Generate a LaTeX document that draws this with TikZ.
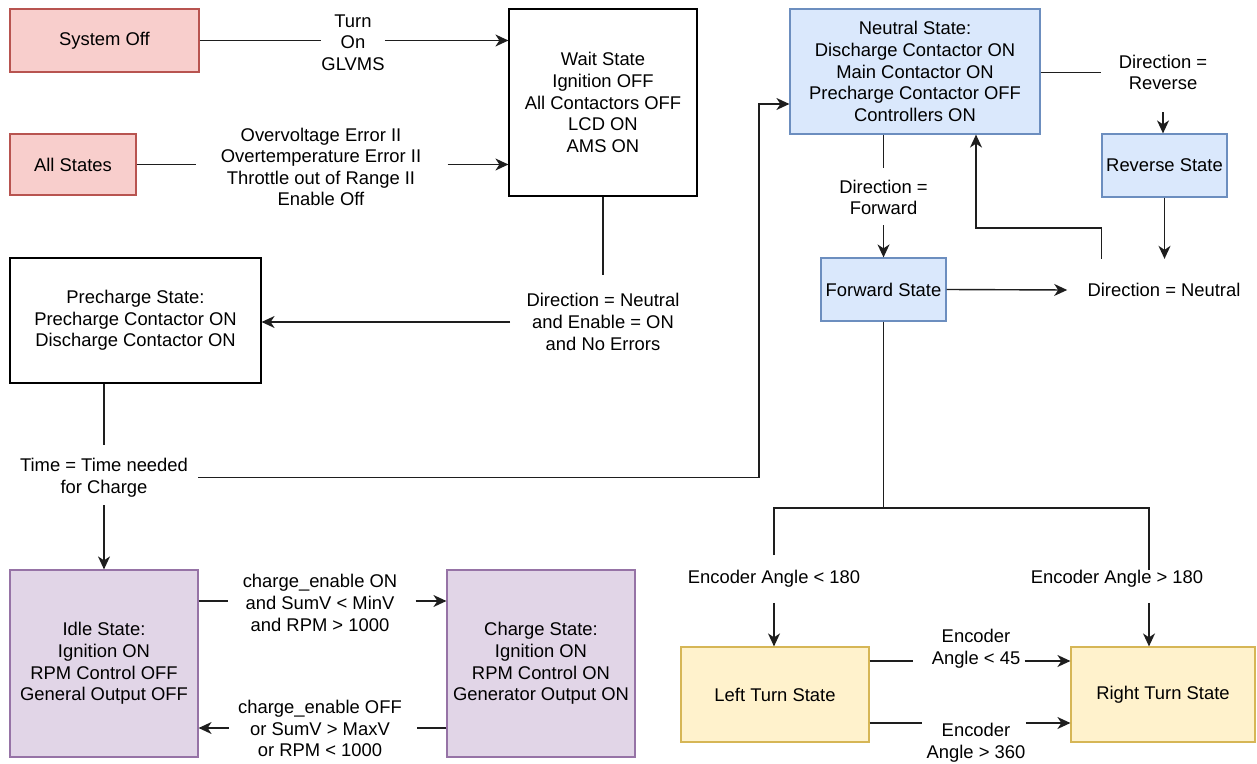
\documentclass[tikz,border=0pt]{standalone}
\usepackage{fontspec}
\setmainfont{Liberation Sans}
\usetikzlibrary{arrows.meta}

\definecolor{redfill}{HTML}{F8CECC}
\definecolor{redline}{HTML}{B85450}
\definecolor{bluefill}{HTML}{DAE8FC}
\definecolor{blueline}{HTML}{6C8EBF}
\definecolor{purpfill}{HTML}{E1D5E7}
\definecolor{purpline}{HTML}{9673A6}
\definecolor{yelfill}{HTML}{FFF2CC}
\definecolor{yelline}{HTML}{D6B656}
\definecolor{wire}{HTML}{1E1E1E}

\begin{document}
\begin{tikzpicture}[x=0.5pt, y=-0.5pt,
        every node/.style={font=\fontsize{9.2}{10.8}\selectfont, align=center, inner sep=0pt},
        state/.style={draw, line width=0.6pt},
        redst/.style={state, fill=redfill, draw=redline},
        bluest/.style={state, fill=bluefill, draw=blueline},
        purpst/.style={state, fill=purpfill, draw=purpline},
        yelst/.style={state, fill=yelfill, draw=yelline},
        plainst/.style={state, fill=white, draw=black},
        link/.style={draw=wire, line width=0.7pt},
        arr/.style={link, -{Stealth[length=6.5pt, width=6pt, inset=2pt]}}]
    \fill[white] (0,0) rectangle (1257,764);
    \useasboundingbox (0,0) rectangle (1257,764);

    \node[redst, minimum width=94.5pt, minimum height=31.5pt] (sysoff) at (104.5,40.5) {System Off};
    \node[redst, minimum width=63pt, minimum height=30.5pt] (allst) at (73,164.5) {All States};
    \node[plainst, minimum width=94pt, minimum height=93.5pt] (wait) at (603,102.5)
        {Wait State\\Ignition OFF\\All Contactors OFF\\LCD ON\\AMS ON};
    \node[plainst, minimum width=125.5pt, minimum height=62.5pt] (pre) at (135.5,320.5)
        {Precharge State:\\Precharge Contactor ON\\Discharge Contactor ON};
    \node[bluest, minimum width=125pt, minimum height=62.5pt] (neutral) at (915,71.5)
        {Neutral State:\\Discharge Contactor ON\\Main Contactor ON\\Precharge Contactor OFF\\Controllers ON};
    \node[bluest, minimum width=62.5pt, minimum height=31.5pt] (reverse) at (1164.5,165.5) {Reverse State};
    \node[bluest, minimum width=62.5pt, minimum height=31.5pt] (forward) at (883.5,289.5) {Forward State};
    \node[purpst, minimum width=94pt, minimum height=93.5pt] (idle) at (104,663.5)
        {Idle State:\\Ignition ON\\RPM Control OFF\\General Output OFF};
    \node[purpst, minimum width=94pt, minimum height=93.5pt] (charge) at (541,663.5)
        {Charge State:\\Ignition ON\\RPM Control ON\\Generator Output ON};
    \node[yelst, minimum width=94pt, minimum height=47.5pt] (lturn) at (775,694.5) {Left Turn State};
    \node[yelst, minimum width=92pt, minimum height=47.5pt] (rturn) at (1163,694.5) {Right Turn State};

    \node (turnlbl) at (353,42.5) {Turn\\On\\GLVMS};
    \node (errlbl) at (321,167) {Overvoltage Error II\\Overtemperature Error II\\Throttle out of Range II\\Enable Off};
    \node (neulbl) at (603,322) {Direction = Neutral\\and Enable = ON\\and No Errors};
    \node (timelbl) at (104,477.5) {Time = Time needed\\for Charge};
    \node (fwdlbl) at (883.5,197.5) {Direction =\\Forward};
    \node (revlbl) at (1163,72.5) {Direction =\\Reverse};
    \node (dirneu) at (1164,290) {Direction = Neutral};
    \node (chon) at (320,603) {charge\_enable ON\\and SumV < MinV\\and RPM > 1000};
    \node (choff) at (320,728.5) {charge\_enable OFF\\or SumV > MaxV\\or RPM < 1000};
    \node (encl) at (774,579) {Encoder Angle < 180};
    \node (encr) at (1117,579) {Encoder Angle > 180};
    \node (enct) at (976,648.5) {Encoder\\Angle < 45};
    \node (encb) at (976,742.5) {Encoder\\Angle > 360};

    \coordinate (tcorner) at (759,104);
    \coordinate (dntop) at ([yshift=12pt]dirneu.north);
    \coordinate (fbturn) at (976,228);
    \coordinate (rdrop) at (1149,508);
    \coordinate (ea) at ([yshift=16.75pt]lturn.east);
    \coordinate (eb) at ([yshift=-14.25pt]lturn.east);
    \coordinate (ia) at ([yshift=31.25pt]idle.east);
    \coordinate (ib) at ([yshift=-32.25pt]idle.east);

    \draw[link] (sysoff.east) -- (sysoff.east -| turnlbl.west);
    \draw[arr] (sysoff.east -| turnlbl.east) -- (sysoff.east -| wait.west);
    \draw[link] (allst.east) -- ([xshift=-12pt]allst.east -| errlbl.west);
    \draw[arr] ([xshift=13pt]allst.east -| errlbl.east) -- (allst.east -| wait.west);

    \draw[link] (wait.south) -- ([yshift=9pt]wait.south |- neulbl.north);
    \draw[arr] ([xshift=-8pt]neulbl.west) -- (neulbl.west -| pre.east);
    \draw[link] (pre.south -| timelbl) -- ([yshift=6.5pt]timelbl.north);
    \draw[arr] ([yshift=-4pt]timelbl.south) -- (timelbl.south |- idle.north);
    \draw[arr] ([xshift=5pt]timelbl.east) -| (tcorner) -- (tcorner -| neutral.west);

    \draw[link] (fwdlbl |- neutral.south) -- ([yshift=6pt]fwdlbl.north);
    \draw[arr] ([yshift=-5pt]fwdlbl.south) -- (fwdlbl |- forward.north);
    \draw[link] (revlbl -| neutral.east) -- ([xshift=-8.5pt]revlbl.west);
    \draw[arr] ([yshift=-11pt]revlbl.south) -- (revlbl |- reverse.north);
    \draw[arr] (reverse.south) -- (reverse.south |- dntop);
    \draw[arr] (forward.east) -- ([xshift=-10pt]dirneu.west);
    \draw[arr] (dntop -| reverse.west) |- (fbturn) -- (fbturn |- neutral.south);

    \draw[link] (forward.south) -- (forward.south |- rdrop);
    \draw[link] ([yshift=7.5pt]encl.north) |- (rdrop) -- (rdrop |- encr.north);
    \draw[arr] ([yshift=-7.5pt]encl.south) -- (encl.south |- lturn.north);
    \draw[arr] ([yshift=-7.5pt]rdrop |- encr.south) -- (rdrop |- rturn.north);
    \draw[link] (ea) -- ([xshift=-9pt]ea -| enct.west);
    \draw[arr] ([xshift=2pt]ea -| enct.east) -- (ea -| rturn.west);
    \draw[link] (eb) -- ([xshift=-2pt]eb -| encb.west);
    \draw[arr] (eb -| encb.east) -- (eb -| rturn.west);

    \draw[link] (ia) -- ([xshift=-7pt]ia -| chon.west);
    \draw[arr] ([xshift=9pt]ia -| chon.east) -- (ia -| charge.west);
    \draw[arr] ([xshift=-4.5pt]ib -| choff.west) -- (ib);
    \draw[link] (ib -| charge.west) -- ([xshift=7.5pt]ib -| choff.east);
\end{tikzpicture}
\end{document}
